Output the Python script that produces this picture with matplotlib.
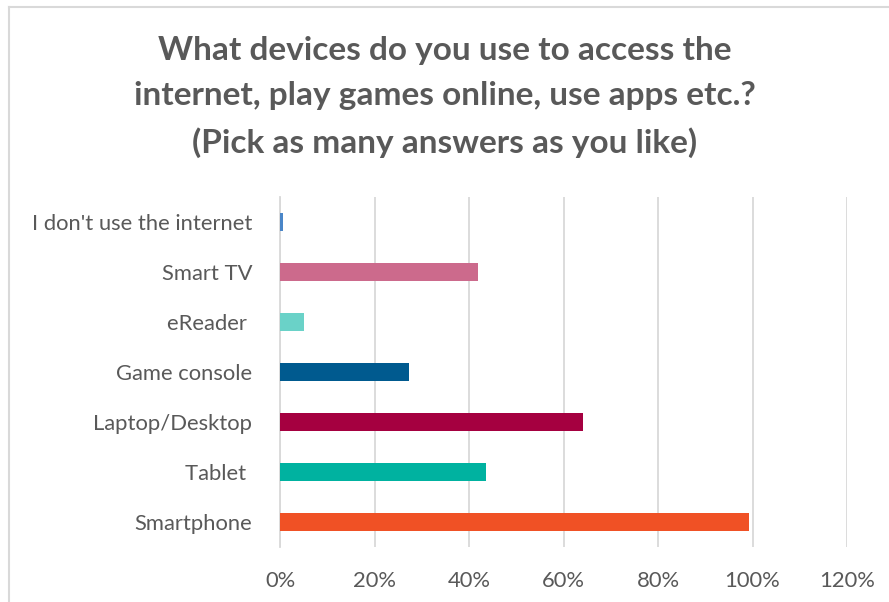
import numpy as np
import matplotlib.pyplot as plt
from matplotlib.lines import Line2D
from matplotlib.ticker import FuncFormatter

plt.rcParams['font.family'] = ['Lato', 'DejaVu Sans']

# survey answers, top to bottom as shown
devices = ["I don't use the internet", "Smart TV", "eReader ", "Game console",
           "Laptop/Desktop", "Tablet ", "Smartphone"]
shares = [0.006, 0.419, 0.051, 0.273, 0.641, 0.436, 0.993]
colors = ["#4A86C8", "#CC6A8C", "#6AD2C8", "#005A8F", "#A50040", "#00B2A0", "#F05125"]
ticks = [0, 0.2, 0.4, 0.6, 0.8, 1.0, 1.2]

text_grey = "#595959"
grid_grey = "#D9D9D9"

fig = plt.figure(figsize=(8.89, 6.02), dpi=100)
ax = fig.add_axes([280 / 889, 1 - 547 / 602, 567 / 889, 350 / 602])

y = np.arange(len(devices))[::-1]
ax.barh(y, shares, height=0.36, color=colors, zorder=3)

ax.set_xlim(0, 1.2)
ax.set_ylim(-0.5, len(devices) - 0.5)
ax.set_xticks(ticks)
ax.xaxis.set_major_formatter(FuncFormatter(lambda v, p: f"{v * 100:.0f}%"))
ax.set_yticks(y)
ax.set_yticklabels(devices)
ax.grid(axis='x', color=grid_grey, linewidth=1.3, zorder=0)
ax.tick_params(axis='both', length=0, labelsize=15.8, labelcolor=text_grey)
ax.tick_params(axis='x', pad=17)
ax.tick_params(axis='y', pad=20)
for side in ['top', 'right', 'bottom']:
    ax.spines[side].set_visible(False)
ax.spines['left'].set_color(grid_grey)
ax.spines['left'].set_linewidth(1.3)

fig.text(0.5, 1 - 97 / 602,
         "What devices do you use to access the\n"
         "internet, play games online, use apps etc.?\n"
         "(Pick as many answers as you like)",
         ha='center', va='center', fontsize=24, fontweight='bold',
         color=text_grey, linespacing=1.68)

# chart frame, left and top edges
fig.add_artist(Line2D([9 / 889, 9 / 889], [0, 1 - 7 / 602], color=grid_grey, linewidth=1.5))
fig.add_artist(Line2D([9 / 889, 1], [1 - 7 / 602, 1 - 7 / 602], color=grid_grey, linewidth=1.5))

fig.savefig("out.png", dpi=100)
